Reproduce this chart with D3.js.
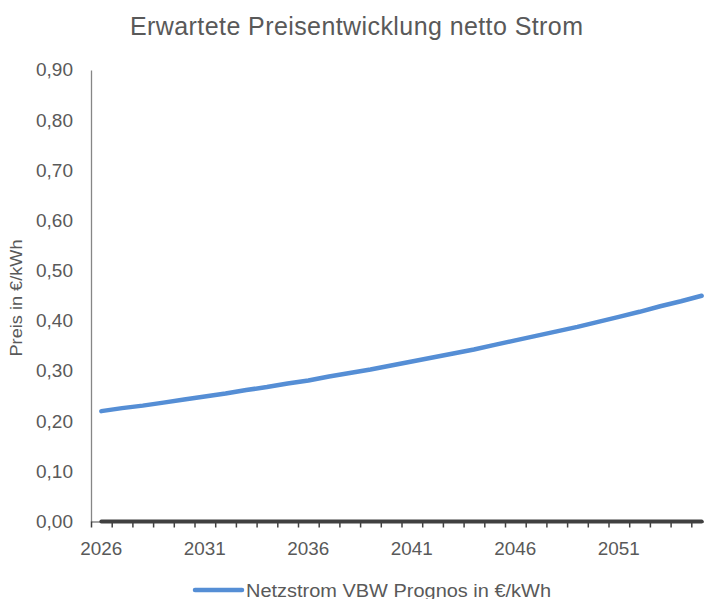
<!DOCTYPE html>
<html>
<head>
<meta charset="utf-8">
<script src="https://cdn.jsdelivr.net/npm/d3@7"></script>
<style>
  html, body { margin: 0; padding: 0; background: #fff; }
  svg { display: block; font-family: "Liberation Sans", Arial, sans-serif; }
</style>
</head>
<body>
<svg id="chart" width="704" height="599"></svg>
<script>
const title = "Erwartete Preisentwicklung netto Strom";
const yAxisTitle = "Preis in €/kWh";
const seriesName = "Netzstrom VBW Prognos in €/kWh";
const years = [2026,2027,2028,2029,2030,2031,2032,2033,2034,2035,
               2036,2037,2038,2039,2040,2041,2042,2043,2044,2045,
               2046,2047,2048,2049,2050,2051,2052,2053,2054,2055];
const netzstrom = [0.220,0.226,0.231,0.237,0.243,0.249,0.255,0.262,0.268,0.275,
                   0.281,0.289,0.296,0.303,0.311,0.319,0.327,0.335,0.343,0.352,
                   0.361,0.370,0.379,0.388,0.398,0.408,0.418,0.429,0.439,0.450];
const baseline = [0,0,0,0,0,0,0,0,0,0,0,0,0,0,0,0,0,0,0,0,0,0,0,0,0,0,0,0,0,0];
const yTicks = [0,0.1,0.2,0.3,0.4,0.5,0.6,0.7,0.8,0.9];
const xLabelYears = [2026,2031,2036,2041,2046,2051];

const svg = d3.select("#chart");
const mLeft = 91, bandW = 20.7, mTop = 70, mBottom = 521.5;
const mRight = mLeft + bandW * years.length;

const x = d3.scaleBand().domain(years).range([mLeft, mRight]).padding(0);
const xEdge = d3.scaleLinear().domain([0, years.length]).range([mLeft, mRight]);
const y = d3.scaleLinear().domain([0, 0.9]).range([mBottom, mTop]);

const textColor = "#595959";

// Title
svg.append("text")
  .attr("x", 356.5).attr("y", 35)
  .attr("text-anchor", "middle")
  .attr("font-size", 25)
  .attr("fill", textColor)
  .attr("textLength", 453)
  .attr("lengthAdjust", "spacing")
  .text(title);

// Y axis
const yAxis = d3.axisLeft(y).tickValues(yTicks).tickSize(0).tickPadding(18)
  .tickFormat(d => d3.format(".2f")(d).replace(".", ","));
const gy = svg.append("g").attr("transform", `translate(${mLeft},0)`).call(yAxis);
gy.select(".domain").attr("stroke", "#868686").attr("stroke-width", 1.3);
gy.selectAll("text").attr("font-size", 18.5).attr("fill", textColor)
  .attr("font-family", "'Liberation Sans', Arial, sans-serif")
  .attr("textLength", 37).attr("lengthAdjust", "spacingAndGlyphs");

// X tick marks at category boundaries
const xTickAxis = d3.axisBottom(xEdge).tickValues(d3.range(0, years.length + 1))
  .tickFormat("").tickSize(6).tickSizeOuter(0);
const gxt = svg.append("g").attr("transform", `translate(0,${mBottom})`).call(xTickAxis);
gxt.select(".domain").attr("stroke", "#868686").attr("stroke-width", 1.3);
gxt.selectAll(".tick line").attr("stroke", "#404040").attr("stroke-width", 1.5);

// X labels
const xAxis = d3.axisBottom(x).tickValues(xLabelYears).tickSize(0).tickPadding(20);
const gx = svg.append("g").attr("transform", `translate(0,${mBottom})`).call(xAxis);
gx.select(".domain").remove();
gx.selectAll("text").attr("font-size", 18.5).attr("fill", textColor)
  .attr("font-family", "'Liberation Sans', Arial, sans-serif")
  .attr("textLength", 42).attr("lengthAdjust", "spacingAndGlyphs");

// Y axis title
svg.append("text")
  .attr("transform", `translate(22,298) rotate(-90)`)
  .attr("text-anchor", "middle")
  .attr("font-size", 16.5)
  .attr("fill", textColor)
  .attr("textLength", 117).attr("lengthAdjust", "spacingAndGlyphs")
  .text(yAxisTitle);

const line = d3.line()
  .x((d, i) => x(years[i]) + x.bandwidth() / 2)
  .y(d => y(d));

// Baseline series (zero values)
svg.append("path")
  .datum(baseline)
  .attr("fill", "none")
  .attr("stroke", "#404040")
  .attr("stroke-width", 4)
  .attr("stroke-linecap", "round")
  .attr("d", line);

// Main series
svg.append("path")
  .datum(netzstrom)
  .attr("fill", "none")
  .attr("stroke", "#558ED5")
  .attr("stroke-width", 4.5)
  .attr("stroke-linecap", "round")
  .attr("stroke-linejoin", "round")
  .attr("d", line);

// Legend
const lg = svg.append("g");
lg.append("line")
  .attr("x1", 195).attr("x2", 242).attr("y1", 590).attr("y2", 590)
  .attr("stroke", "#558ED5").attr("stroke-width", 4.5).attr("stroke-linecap", "round");
lg.append("text")
  .attr("x", 246).attr("y", 596.5)
  .attr("font-size", 18)
  .attr("fill", textColor)
  .attr("textLength", 305).attr("lengthAdjust", "spacingAndGlyphs")
  .text(seriesName);
</script>
</body>
</html>
